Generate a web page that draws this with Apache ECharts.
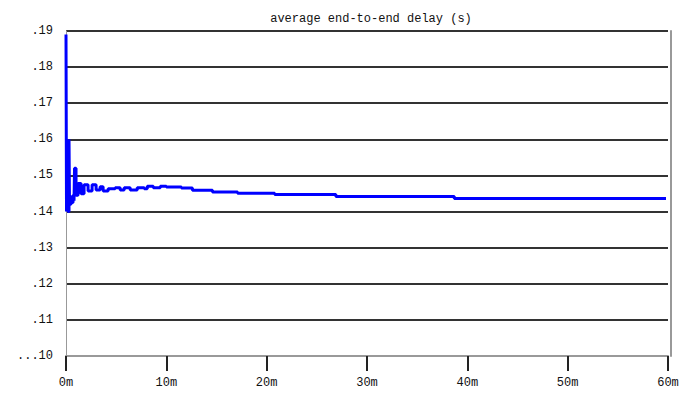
<!DOCTYPE html>
<html>
<head>
<meta charset="utf-8">
<script src="https://cdn.jsdelivr.net/npm/echarts@6/dist/echarts.min.js"></script>
<style>
  html, body { margin: 0; padding: 0; background: #fff; }
  #chart { width: 683px; height: 394px; }
</style>
</head>
<body>
<div id="chart"></div>
<script>
// ─── data ────────────────────────────────────────────────
const titleText = 'average end-to-end delay (s)';
// time in minutes
const minutes = [
  0, 0.05, 0.1, 0.2, 0.3, 0.35, 0.5, 0.6, 0.7, 0.8, 0.85, 1.0,
  1.2, 1.5, 1.8, 2.2, 2.6, 3.0, 3.4, 3.7, 4.2, 4.9, 5.4, 5.8,
  6.4, 7.1, 7.8, 8.1, 8.7, 9.4, 10.0, 10.7, 11.5, 12.6, 14.6,
  17.1, 20.8, 26.9, 38.7, 59.8
];
// average delay in seconds
const delay = [
  0.189, 0.140, 0.146, 0.140, 0.160, 0.142, 0.144, 0.1425, 0.1445, 0.143, 0.152, 0.1445,
  0.1478, 0.1449, 0.1474, 0.1457, 0.1474, 0.1460, 0.1469, 0.1457, 0.1463, 0.1466, 0.1460, 0.1466,
  0.1460, 0.1466, 0.1463, 0.1470, 0.1466, 0.1470, 0.1468, 0.1468, 0.1465, 0.1459, 0.1454,
  0.1451, 0.1447, 0.1442, 0.1436, 0.1436
];
const xTicks = [0, 10, 20, 30, 40, 50, 60];
const yTicks = [0.10, 0.11, 0.12, 0.13, 0.14, 0.15, 0.16, 0.17, 0.18, 0.19];

const FONT = '"Liberation Mono", "DejaVu Sans Mono", monospace';

const chart = echarts.init(document.getElementById('chart'), null, { renderer: 'svg' });

chart.setOption({
  animation: false,
  backgroundColor: '#fff',
  title: {
    text: titleText,
    left: 366,
    textAlign: 'center',
    top: 8,
    textStyle: { fontFamily: FONT, fontSize: 12, fontWeight: 'normal', color: '#111' }
  },
  grid: { left: 66, right: 15, top: 31, bottom: 38 },
  xAxis: {
    type: 'value',
    min: xTicks[0],
    max: xTicks[xTicks.length - 1],
    interval: 10,
    axisLine: { show: true, lineStyle: { color: '#999', width: 2 } },
    axisTick: { show: true, length: 15, inside: false, lineStyle: { color: '#222', width: 2 } },
    axisLabel: {
      margin: 21,
      fontFamily: FONT, fontSize: 12, color: '#111',
      formatter: v => v + 'm'
    },
    splitLine: { show: false }
  },
  yAxis: [{
    type: 'value',
    min: yTicks[0],
    max: yTicks[yTicks.length - 1],
    interval: 0.01,
    axisLine: { show: true, lineStyle: { color: '#999', width: 1 } },
    axisTick: { show: false },
    axisLabel: {
      margin: 13,
      fontFamily: FONT, fontSize: 12, color: '#111',
      formatter: v => {
        const s = '.' + Math.round(v * 100);
        return Math.abs(v - yTicks[0]) < 1e-9 ? '...' + Math.round(v * 100) : s;
      },
      showMaxLabel: true
    },
    splitLine: {
      show: true,
      lineStyle: { color: '#333', width: 2 }
    }
  }, {
    type: 'value',
    position: 'right',
    offset: 3,
    min: yTicks[0],
    max: yTicks[yTicks.length - 1],
    interval: 0.01,
    axisLine: { show: true, lineStyle: { color: '#999', width: 2 } },
    axisTick: { show: false },
    axisLabel: { show: false },
    splitLine: { show: false }
  }],
  series: [{
    type: 'line',
    step: 'end',
    data: minutes.map((m, i) => [m, delay[i]]),
    showSymbol: false,
    lineStyle: { color: '#0000ff', width: 3 },
    z: 5
  }]
});
</script>
</body>
</html>
